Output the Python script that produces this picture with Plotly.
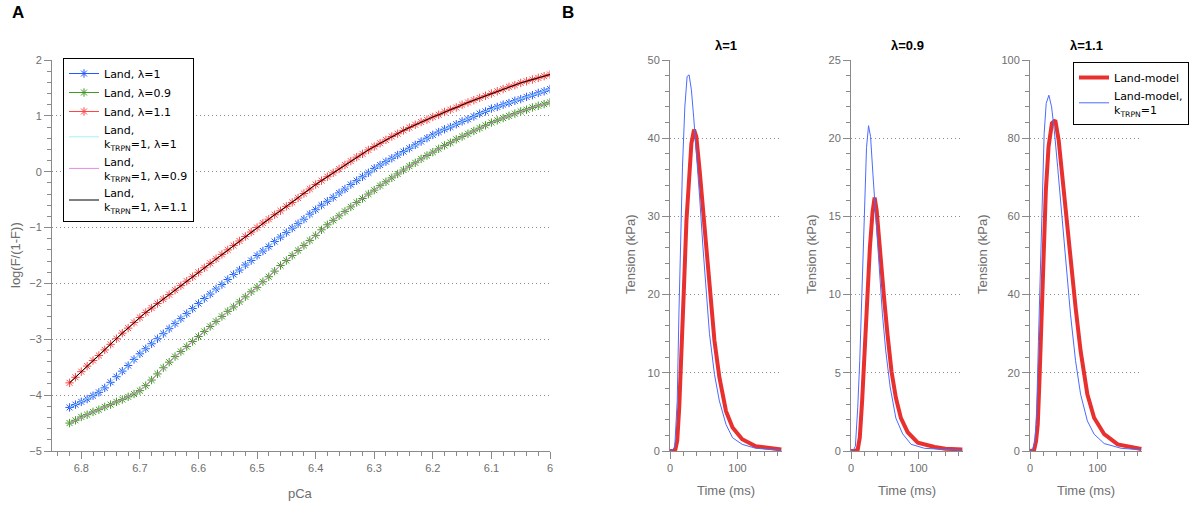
import plotly.graph_objects as go

# ---------------- Panel A data ----------------
pca = [6.82, 6.81, 6.80, 6.79, 6.78, 6.77, 6.76, 6.75, 6.74, 6.73, 6.72, 6.71, 6.70,
       6.69, 6.68, 6.67, 6.66, 6.65, 6.64, 6.63, 6.62, 6.61, 6.60,
       6.59, 6.58, 6.57, 6.56, 6.55, 6.54, 6.53, 6.52, 6.51, 6.50,
       6.49, 6.48, 6.47, 6.46, 6.45, 6.44, 6.43, 6.42, 6.41, 6.40,
       6.39, 6.38, 6.37, 6.36, 6.35, 6.34, 6.33, 6.32, 6.31, 6.30,
       6.29, 6.28, 6.27, 6.26, 6.25, 6.24, 6.23, 6.22, 6.21, 6.20,
       6.19, 6.18, 6.17, 6.16, 6.15, 6.14, 6.13, 6.12, 6.11, 6.10,
       6.09, 6.08, 6.07, 6.06, 6.05, 6.04, 6.03, 6.02, 6.01, 6.00]

logF_lam1 = [-4.22, -4.17, -4.12, -4.07, -4.01, -3.95, -3.87, -3.77, -3.67, -3.57, -3.47, -3.36, -3.26,
             -3.17, -3.08, -2.99, -2.90, -2.81, -2.72, -2.63, -2.54, -2.45, -2.36,
             -2.27, -2.19, -2.10, -2.02, -1.93, -1.84, -1.76, -1.67, -1.59, -1.50,
             -1.42, -1.34, -1.25, -1.17, -1.09, -1.01, -0.93, -0.85, -0.76, -0.68,
             -0.60, -0.53, -0.46, -0.38, -0.31, -0.23, -0.16, -0.09, -0.02, 0.06,
             0.12, 0.18, 0.24, 0.30, 0.36, 0.42, 0.48, 0.54, 0.60, 0.66,
             0.71, 0.76, 0.80, 0.85, 0.90, 0.94, 0.99, 1.04, 1.08, 1.13,
             1.16, 1.20, 1.23, 1.27, 1.30, 1.34, 1.37, 1.41, 1.44, 1.48]

logF_lam09 = [-4.50, -4.45, -4.39, -4.35, -4.30, -4.26, -4.21, -4.17, -4.12, -4.08, -4.03, -3.98, -3.92,
              -3.83, -3.73, -3.62, -3.51, -3.41, -3.31, -3.22, -3.13, -3.04, -2.95,
              -2.86, -2.77, -2.68, -2.59, -2.50, -2.42, -2.33, -2.24, -2.15, -2.07,
              -1.97, -1.88, -1.78, -1.68, -1.59, -1.50, -1.41, -1.32, -1.23, -1.14,
              -1.04, -0.95, -0.87, -0.79, -0.71, -0.63, -0.55, -0.48, -0.40, -0.33,
              -0.25, -0.18, -0.11, -0.04, 0.03, 0.10, 0.16, 0.23, 0.29, 0.35,
              0.41, 0.47, 0.52, 0.58, 0.63, 0.68, 0.73, 0.78, 0.83, 0.88,
              0.92, 0.96, 1.00, 1.04, 1.08, 1.11, 1.15, 1.18, 1.21, 1.24]

logF_lam11 = [-3.78, -3.68, -3.58, -3.48, -3.38, -3.29, -3.19, -3.09, -2.99, -2.89, -2.80, -2.70, -2.61,
              -2.52, -2.44, -2.36, -2.28, -2.20, -2.12, -2.04, -1.96, -1.88, -1.80,
              -1.72, -1.64, -1.56, -1.48, -1.40, -1.32, -1.24, -1.16, -1.08, -1.00,
              -0.92, -0.85, -0.77, -0.70, -0.62, -0.55, -0.47, -0.39, -0.31, -0.23,
              -0.16, -0.09, -0.02, 0.05, 0.12, 0.19, 0.26, 0.32, 0.39, 0.45,
              0.51, 0.57, 0.63, 0.68, 0.74, 0.79, 0.84, 0.89, 0.93, 0.98,
              1.02, 1.07, 1.11, 1.15, 1.20, 1.24, 1.28, 1.32, 1.36, 1.40,
              1.44, 1.48, 1.52, 1.55, 1.59, 1.62, 1.65, 1.68, 1.71, 1.74]

# kTRPN=1 steady-state curves coincide with the Land curves
logF_trpn_lam1 = list(logF_lam1)
logF_trpn_lam09 = list(logF_lam09)
logF_trpn_lam11 = list(logF_lam11)

# ---------------- Panel B data ----------------
t_land_l1 = [0, 5, 8, 10.7, 13.7, 17, 20.5, 24.4, 28.3, 31.7, 35.6, 39, 43.9, 48.8, 53.7, 58.5, 65.9, 73.2, 83, 92.7, 107, 127, 151, 165]
T_land_l1 = [0, 0, 0.2, 1.3, 5.6, 12, 20.5, 29.5, 35.5, 39.3, 41.1, 40.2, 35.9, 31.2, 26.1, 20.9, 14.1, 9.4, 5.1, 3.0, 1.5, 0.6, 0.35, 0.2]
t_trpn_l1 = [0, 3, 7, 10.7, 13.2, 15.6, 18.5, 22, 25.4, 28.3, 31.7, 35.1, 39, 43.9, 48.8, 53.7, 58.5, 65.9, 73.2, 83, 92.7, 107, 127, 165]
T_trpn_l1 = [0, 0.1, 0.5, 6.4, 17.5, 26.9, 36.3, 44, 47.9, 48.1, 46.2, 42.7, 38.5, 32.5, 26.1, 20.1, 15, 9.8, 6.4, 3.4, 1.7, 0.85, 0.35, 0.1]

t_land_l09 = [0, 6.5, 10, 13, 16.5, 20, 24, 28, 32, 35, 38, 40, 44, 49, 54, 60, 66.5, 74, 84, 99, 124, 140, 165]
T_land_l09 = [0, 0, 0.1, 0.85, 3.2, 6.4, 10.0, 13.0, 15.3, 16.2, 15.4, 14.5, 12.4, 9.8, 7.5, 5.1, 3.4, 2.1, 1.2, 0.53, 0.26, 0.15, 0.1]
t_trpn_l09 = [0, 4, 6.5, 10, 13, 16.5, 20, 23, 26, 29, 32.5, 36.5, 41.5, 46.5, 51.5, 58, 66.5, 76.5, 89, 109, 165]
T_trpn_l09 = [0, 0.1, 0.3, 2.8, 5.8, 10.3, 16, 19.4, 20.8, 20.1, 17.7, 15, 11.8, 8.8, 6.4, 4.1, 2.1, 1.1, 0.43, 0.17, 0.05]

t_land_l11 = [0, 6, 9, 11.5, 14, 17, 20, 23.5, 27.5, 32.5, 37.5, 42.5, 47.5, 54, 60, 67.5, 75, 85, 95, 110, 130, 155, 165]
T_land_l11 = [0, 0.2, 2.6, 6.8, 18, 35, 52, 66.7, 77.8, 83.8, 84.6, 79.5, 70.9, 59, 48.7, 36.8, 25.6, 14.5, 8.5, 4.3, 1.7, 0.7, 0.5]
t_trpn_l11 = [0, 4, 7.5, 10, 12.5, 15, 18, 21, 24, 28, 32, 36, 41, 47.5, 54, 60, 67.5, 75, 85, 95, 110, 135, 165]
T_trpn_l11 = [0, 0.3, 2.6, 11, 28, 45, 66.7, 81.2, 88.9, 91, 88, 82, 72.6, 59.8, 47, 35, 23.1, 14.5, 7.7, 4.3, 1.9, 0.7, 0.3]

panel_b_titles = ["λ=1", "λ=0.9", "λ=1.1"]
panel_b_yranges = [[0, 50], [0, 25], [0, 100]]
panel_b_dtick = [10, 5, 20]
panel_b_minor = [2, 1, 4]

# ---------------- figure ----------------
W, H = 1200, 506
def px(x):
    return x / W
def py(y):
    return (H - y) / H

BLUE, GREEN, RED = "#2457ff", "#3f9a22", "#ff4545"
CYAN, MAGENTA, BLACK = "#a6f2f2", "#e58ae5", "#000000"
B_RED, B_BLUE = "#e8302e", "#4b6bff"

fig = go.Figure()

def star_trace(y, name, col):
    return go.Scatter(x=pca, y=y, mode="lines+markers", name=name,
                      line=dict(color=col, width=1),
                      marker=dict(symbol="asterisk-open", size=7, color=col,
                                  line=dict(width=1, color=col)),
                      xaxis="x", yaxis="y", legend="legend")

fig.add_trace(star_trace(logF_lam1, "Land, λ=1", BLUE))
fig.add_trace(star_trace(logF_lam09, "Land, λ=0.9", GREEN))
fig.add_trace(star_trace(logF_lam11, "Land, λ=1.1", RED))
for y, nm, col in [(logF_trpn_lam1, "Land,<br>k<sub>TRPN</sub>=1, λ=1", CYAN),
                   (logF_trpn_lam09, "Land,<br>k<sub>TRPN</sub>=1, λ=0.9", MAGENTA),
                   (logF_trpn_lam11, "Land,<br>k<sub>TRPN</sub>=1, λ=1.1", BLACK)]:
    fig.add_trace(go.Scatter(x=pca, y=y, mode="lines", name=nm,
                             line=dict(color=col, width=1),
                             xaxis="x", yaxis="y", legend="legend"))

b_sets = [(t_land_l1, T_land_l1, t_trpn_l1, T_trpn_l1),
          (t_land_l09, T_land_l09, t_trpn_l09, T_trpn_l09),
          (t_land_l11, T_land_l11, t_trpn_l11, T_trpn_l11)]
for i, (tl, Tl, tt, Tt) in enumerate(b_sets):
    xa, ya = "x%d" % (i + 2), "y%d" % (i + 2)
    show = (i == 2)
    fig.add_trace(go.Scatter(x=tl, y=Tl, mode="lines", name="Land-model",
                             line=dict(color=B_RED, width=4), xaxis=xa, yaxis=ya,
                             legend="legend2", showlegend=show))
    fig.add_trace(go.Scatter(x=tt, y=Tt, mode="lines",
                             name="Land-model,<br>k<sub>TRPN</sub>=1",
                             line=dict(color=B_BLUE, width=1), xaxis=xa, yaxis=ya,
                             legend="legend2", showlegend=show))

AX = "#8a8a8a"
TICKFONT = dict(family="Liberation Sans, Arial", size=11, color="#6e6e6e")
GRID_DASH = "1px,3px"

def xax(domain, rng, dtick, minor_dtick, anchor, tickvals=None, ticktext=None):
    d = dict(domain=domain, range=rng, anchor=anchor, showline=True, linecolor=AX,
             linewidth=1, ticks="outside", ticklen=7, tickcolor=AX, tickwidth=1,
             tickfont=TICKFONT, showgrid=False, zeroline=False, dtick=dtick, tick0=0,
             minor=dict(ticks="outside", ticklen=4, tickcolor=AX, dtick=minor_dtick,
                        tick0=0, showgrid=False))
    if tickvals is not None:
        d.update(tickmode="array", tickvals=tickvals, ticktext=ticktext)
    return d

def yax(domain, rng, dtick, minor_dtick, anchor):
    return dict(domain=domain, range=rng, anchor=anchor, showline=True, linecolor=AX,
                linewidth=1, ticks="outside", ticklen=7, tickcolor=AX, tickwidth=1,
                tickfont=TICKFONT, showgrid=True, gridcolor="#8c8c8c", griddash=GRID_DASH,
                gridwidth=1, zeroline=False, dtick=dtick, tick0=0,
                minor=dict(ticks="outside", ticklen=4, tickcolor=AX, dtick=minor_dtick,
                           tick0=0, showgrid=False))

ydom = [py(451), py(60)]
pca_ticks = [6.8, 6.7, 6.6, 6.5, 6.4, 6.3, 6.2, 6.1, 6.0]
pca_ticktext = ["6.8", "6.7", "6.6", "6.5", "6.4", "6.3", "6.2", "6.1", "6"]

LEGFONT = dict(family="DejaVu Sans", size=11, color="black")
layout = dict(
    width=W, height=H, margin=dict(l=0, r=0, t=0, b=0, autoexpand=False),
    plot_bgcolor="white", paper_bgcolor="white",
    xaxis=xax([px(52), px(550)], [6.85, 6.0], 0.1, 0.02, "y", pca_ticks, pca_ticktext),
    yaxis=yax(ydom, [-5, 2], 1, 0.2, "x"),
    legend=dict(x=px(63), y=py(58), xanchor="left", yanchor="top", bgcolor="white",
                bordercolor="black", borderwidth=1, tracegroupgap=0, itemwidth=30,
                font=LEGFONT),
    legend2=dict(x=px(1073), y=py(62), xanchor="left", yanchor="top", bgcolor="white",
                 bordercolor="black", borderwidth=1, tracegroupgap=0, itemwidth=30,
                 font=LEGFONT),
    showlegend=True,
)
b_x = [(670, 782), (851, 963), (1030, 1142)]
for i in range(3):
    n = i + 2
    layout["xaxis%d" % n] = xax([px(b_x[i][0]), px(b_x[i][1])], [0, 166], 100, 20, "y%d" % n)
    layout["yaxis%d" % n] = yax(ydom, panel_b_yranges[i], panel_b_dtick[i], panel_b_minor[i], "x%d" % n)
fig.update_layout(**layout)

GRAY_T = dict(family="Liberation Sans, Arial", size=13, color="#6e6e6e")
ann = [
    dict(text="<b>A</b>", x=px(10), y=py(13), xanchor="left", yanchor="middle",
         font=dict(family="Liberation Sans, Arial", size=17, color="black")),
    dict(text="<b>B</b>", x=px(560), y=py(13), xanchor="left", yanchor="middle",
         font=dict(family="Liberation Sans, Arial", size=17, color="black")),
    dict(text="log(F/(1-F))", x=px(15), y=py(255), textangle=-90, font=GRAY_T,
         xanchor="center", yanchor="middle"),
    dict(text="pCa", x=px(300), y=py(493), font=GRAY_T, xanchor="center", yanchor="middle"),
]
ylab_x = [630, 811, 982]
for i in range(3):
    cx = (b_x[i][0] + b_x[i][1]) / 2
    ann.append(dict(text="<b>%s</b>" % panel_b_titles[i], x=px(cx), y=py(45),
                    xanchor="center", yanchor="middle",
                    font=dict(family="Liberation Sans, Arial", size=13, color="black")))
    ann.append(dict(text="Tension (kPa)", x=px(ylab_x[i]), y=py(255), textangle=-90,
                    font=GRAY_T, xanchor="center", yanchor="middle"))
    ann.append(dict(text="Time (ms)", x=px(cx), y=py(490), font=GRAY_T,
                    xanchor="center", yanchor="middle"))
for a in ann:
    a.update(xref="paper", yref="paper", showarrow=False)
fig.update_layout(annotations=ann)

fig.write_html("out.html", config={"displayModeBar": False})

# remove the browser's default page margin so the figure sits at the window origin
with open("out.html", "r", encoding="utf-8") as f:
    html = f.read()
html = html.replace("<head>", "<head><style>html,body{margin:0;padding:0;overflow:hidden;}</style>", 1)
with open("out.html", "w", encoding="utf-8") as f:
    f.write(html)
